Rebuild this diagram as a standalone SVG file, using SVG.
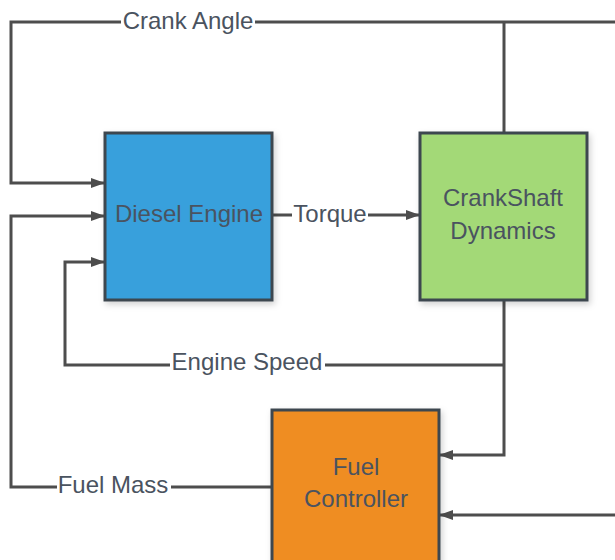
<svg xmlns="http://www.w3.org/2000/svg" width="615" height="560" viewBox="0 0 615 560">
<style>
.box{stroke:#3d4650;stroke-width:3}
.ln{fill:none;stroke:#4d4d4d;stroke-width:3}
.t{font-family:"Liberation Sans",Arial,sans-serif;font-size:24px;fill:#4a5360;text-anchor:middle;dominant-baseline:central}
.lb{fill:#ffffff}
</style>
<defs>
<marker id="ah" viewBox="0 0 14 10" refX="14" refY="5" markerWidth="14" markerHeight="10" markerUnits="userSpaceOnUse" orient="auto">
<path d="M0,0 L14,5 L0,10 Z" fill="#4d4d4d"/>
</marker>
<filter id="sh" x="-10%" y="-10%" width="130%" height="130%">
<feDropShadow dx="2" dy="3" stdDeviation="3" flood-color="#000" flood-opacity="0.18"/>
</filter>
</defs>
<rect width="615" height="560" fill="#ffffff"/>
<g id="connectors">
<path class="ln" d="M615,22 H11 V183 H105" marker-end="url(#ah)"/>
<path class="ln" d="M504,22 V133"/>
<path class="ln" d="M272,215 H420" marker-end="url(#ah)"/>
<path class="ln" d="M272,487 H11 V216 H105" marker-end="url(#ah)"/>
<path class="ln" d="M504,300 V455 H439" marker-end="url(#ah)"/>
<path class="ln" d="M504,365 H65 V262 H105" marker-end="url(#ah)"/>
<path class="ln" d="M615,515 H439" marker-end="url(#ah)"/>
<rect class="lb" x="121" y="8" width="134" height="28"/>
<text class="t" x="188" y="20">Crank Angle</text>
<rect class="lb" x="292" y="202" width="76" height="26"/>
<text class="t" x="330" y="213">Torque</text>
<rect class="lb" x="170" y="350" width="155" height="28"/>
<text class="t" x="247" y="361">Engine Speed</text>
<rect class="lb" x="57" y="474" width="114" height="26"/>
<text class="t" x="113" y="484">Fuel Mass</text>
</g>
<g id="diesel-engine">
<rect class="box" x="105" y="133" width="167" height="167" fill="#37a0dc" filter="url(#sh)"/>
<text class="t" x="189" y="213">Diesel Engine</text>
</g>
<g id="crankshaft-dynamics">
<rect class="box" x="420" y="133" width="167" height="167" fill="#a3d977" filter="url(#sh)"/>
<text class="t" x="503" y="197">CrankShaft</text>
<text class="t" x="503" y="230">Dynamics</text>
</g>
<g id="fuel-controller">
<rect class="box" x="272" y="410" width="167" height="160" fill="#ef8d22" filter="url(#sh)"/>
<text class="t" x="356" y="466">Fuel</text>
<text class="t" x="356" y="498">Controller</text>
</g>
</svg>
